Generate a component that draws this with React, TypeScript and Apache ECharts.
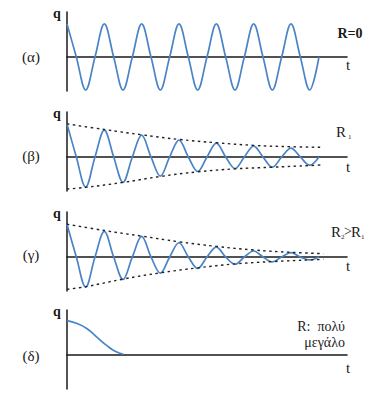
import React, { useEffect, useRef } from "react";
import * as echarts from "echarts";

// ---- data (t in periods, q in units of the initial amplitude) ----
const panelLabels = ["(α)", "(β)", "(γ)", "(δ)"];
const conditionLabels = ["R=0", "R₁", "R₂>R₁", "R: πολύ μεγάλο"];

const alphaWave: number[][] = [
  [0, 1], [0.25, 0], [0.5, -1], [0.75, 0], [1, 1], [1.25, 0], [1.5, -1], [1.75, 0],
  [2, 1], [2.25, 0], [2.5, -1], [2.75, 0], [3, 1], [3.25, 0], [3.5, -1], [3.75, 0],
  [4, 1], [4.25, 0], [4.5, -1], [4.75, 0], [5, 1], [5.25, 0], [5.5, -1], [5.75, 0],
  [6, 1], [6.25, 0], [6.5, -1], [6.75, 0],
];

const betaWave: number[][] = [
  [0, 1.0], [0.25, 0], [0.5, -0.91], [0.75, 0], [1, 0.81], [1.25, 0], [1.5, -0.77], [1.75, 0],
  [2, 0.66], [2.25, 0], [2.5, -0.58], [2.75, 0], [3, 0.51], [3.25, 0], [3.5, -0.44], [3.75, 0],
  [4, 0.42], [4.25, 0], [4.5, -0.35], [4.75, 0], [5, 0.33], [5.25, 0], [5.5, -0.31], [5.75, 0],
  [6, 0.27], [6.25, 0], [6.5, -0.25], [6.75, 0],
];
const betaUpper: number[][] = [
  [0, 1.0], [1, 0.83], [2, 0.67], [3, 0.53], [4, 0.43], [5, 0.35], [6, 0.31], [6.87, 0.29],
];
const betaLower: number[][] = [
  [0, -0.97], [0.5, -0.92], [1.5, -0.77], [2.5, -0.59], [3.5, -0.45], [4.5, -0.36],
  [5.5, -0.31], [6.5, -0.26], [6.87, -0.24],
];

const gammaWave: number[][] = [
  [0, 0.99], [0.25, 0], [0.5, -0.91], [0.75, 0], [1, 0.77], [1.25, 0], [1.5, -0.68], [1.75, 0],
  [2, 0.62], [2.25, 0], [2.5, -0.49], [2.75, 0], [3, 0.43], [3.25, 0], [3.5, -0.35], [3.75, 0],
  [4, 0.3], [4.25, 0], [4.5, -0.22], [4.75, 0], [5, 0.18], [5.25, 0], [5.5, -0.15], [5.75, 0],
  [6, 0.13], [6.25, 0], [6.5, -0.09], [6.75, 0],
];
const gammaUpper: number[][] = [
  [0, 0.99], [1, 0.8], [2, 0.63], [3, 0.46], [4, 0.32], [5, 0.21], [6, 0.14], [6.87, 0.1],
];
const gammaLower: number[][] = [
  [0, -0.98], [0.5, -0.9], [1.5, -0.67], [2.5, -0.48], [3.5, -0.33], [4.5, -0.21],
  [5.5, -0.14], [6.5, -0.09], [6.87, -0.07],
];

const deltaCurve: number[][] = [
  [0, 1.04], [0.27, 0.95], [0.53, 0.8], [0.8, 0.54], [1.06, 0.29], [1.29, 0.11], [1.51, 0.02],
];

const gridTops = [12, 112, 212, 310];

export default function App() {
  const ref = useRef<HTMLDivElement>(null);

  useEffect(() => {
    if (!ref.current) return;
    const chart = echarts.init(ref.current, null, { renderer: "svg" });
    const axisColor = "#1a1a1a";
    const waveColor = "#4a84c6";
    const serif = '"Liberation Serif", "DejaVu Serif", serif';

    const grids = gridTops.map((top) => ({ left: 67, top, width: 280, height: 79 }));
    const xAxes = gridTops.map((_, i) => ({
      type: "value",
      gridIndex: i,
      min: 0,
      max: 7.5,
      axisLine: { show: true, onZero: true, lineStyle: { color: axisColor, width: 1.6 } },
      axisTick: { show: false },
      axisLabel: { show: false },
      splitLine: { show: false },
    }));
    const yAxes = gridTops.map((_, i) => ({
      type: "value",
      gridIndex: i,
      min: -1.03,
      max: 1.36,
      axisLine: { show: true, onZero: false, lineStyle: { color: axisColor, width: 1.5 } },
      axisTick: { show: false },
      axisLabel: { show: false },
      splitLine: { show: false },
    }));

    const wave = (data: number[][], idx: number, smooth = 0.36) => ({
      type: "line",
      xAxisIndex: idx,
      yAxisIndex: idx,
      data,
      smooth,
      symbol: "none",
      lineStyle: { color: waveColor, width: 1.7 },
    });
    const env = (data: number[][], idx: number) => ({
      type: "line",
      xAxisIndex: idx,
      yAxisIndex: idx,
      data,
      smooth: 0.4,
      symbol: "none",
      lineStyle: { color: "#222", width: 1.4, type: [2.5, 3.5] },
    });

    const txt = (text: string, x: number, y: number, size: number, bold = false, align = "center") => ({
      type: "text",
      x,
      y,
      style: {
        text,
        font: `${bold ? "bold " : ""}${size}px ${serif}`,
        fill: "#1a1a1a",
        textAlign: align,
        textVerticalAlign: "middle",
      },
    });

    const graphics: any[] = [];
    const labelY = [57, 156, 255, 356];
    panelLabels.forEach((l, i) => graphics.push(txt(l, 31, labelY[i], 15)));
    const qY = [13, 113, 213, 311];
    qY.forEach((y) => graphics.push(txt("q", 57, y, 14, true)));
    const tY = [65, 167, 266, 368];
    tY.forEach((y) => graphics.push(txt("t", 348, y, 15)));
    graphics.push(txt(conditionLabels[0], 350, 33, 14, true));
    graphics.push(txt("R", 336, 132, 15, false, "left"));
    graphics.push(txt("1", 348, 137, 7, false, "left"));
    graphics.push(txt("R", 331, 232, 15, false, "left"));
    graphics.push(txt("2", 341, 237, 7, false, "left"));
    graphics.push(txt(">", 344, 231, 14, false, "left"));
    graphics.push(txt("R", 351, 232, 15, false, "left"));
    graphics.push(txt("1", 361, 237, 7, false, "left"));
    const [l1, l2] = conditionLabels[3].split(" μ");
    graphics.push(txt(l1.replace(": ", ":  "), 345, 326, 14, false, "right"));
    graphics.push(txt("μ" + l2, 345, 342, 14, false, "right"));

    chart.setOption({
      animation: false,
      backgroundColor: "#ffffff",
      grid: grids,
      xAxis: xAxes,
      yAxis: yAxes,
      series: [
        wave(alphaWave, 0),
        wave(betaWave, 1),
        env(betaUpper, 1),
        env(betaLower, 1),
        wave(gammaWave, 2),
        env(gammaUpper, 2),
        env(gammaLower, 2),
        wave(deltaCurve, 3, 0.5),
      ],
      graphic: graphics,
    });
    return () => chart.dispose();
  }, []);

  return (
    <div
      ref={ref}
      style={{ position: "fixed", left: 0, top: 0, width: 391, height: 414, background: "#fff" }}
    />
  );
}
